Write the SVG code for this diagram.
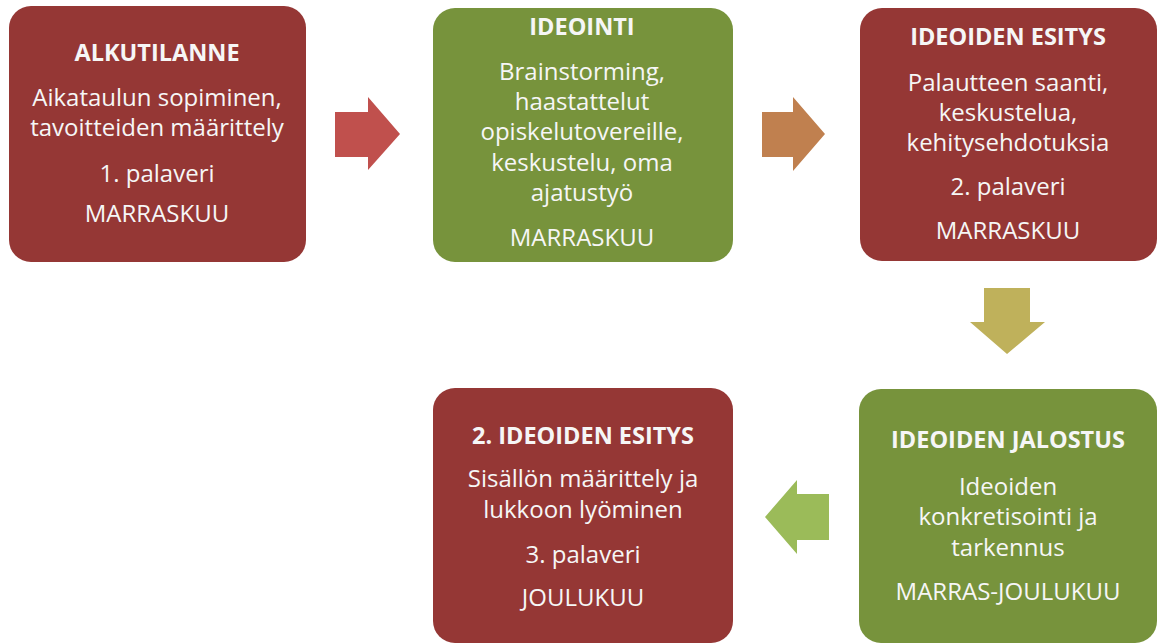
<svg xmlns="http://www.w3.org/2000/svg" width="1160" height="644" viewBox="0 0 1160 644">
<style>
.red{fill:#953735}
.green{fill:#77933C}
text{font-family:"Open Sans","Noto Sans",sans-serif;font-size:24px;fill:#F6F6F6;text-anchor:middle}
.t{font-weight:bold;font-size:23.5px}
</style>
<rect width="1160" height="644" fill="#FFFFFF"/>
<g id="connectors">
<polygon points="335,112 368,112 368,97 400,134 368,170 368,157 335,157" fill="#C0504D"/>
<polygon points="762,112 793,112 793,97 825,134 793,171 793,157 762,157" fill="#C0804F"/>
<polygon points="984,288 1030,288 1030,322 1045,322 1007,354 970,322 984,322" fill="#BFB15B"/>
<polygon points="829,494 797,494 797,480 765,517 797,554 797,540 829,540" fill="#9BBB59"/>
</g>
<g id="alkutilanne">
<rect class="red" x="9" y="6" width="297" height="256" rx="22"/>
<text class="t" x="157" y="61">ALKUTILANNE</text>
<text x="157" y="106">Aikataulun sopiminen,</text>
<text x="157" y="136">tavoitteiden määrittely</text>
<text x="157" y="182">1. palaveri</text>
<text x="157" y="222">MARRASKUU</text>
</g>
<g id="ideointi">
<rect class="green" x="433" y="8" width="300" height="254" rx="22"/>
<text class="t" x="582" y="35">IDEOINTI</text>
<text x="582" y="80">Brainstorming,</text>
<text x="582" y="110">haastattelut</text>
<text x="582" y="140">opiskelutovereille,</text>
<text x="582" y="171">keskustelu, oma</text>
<text x="582" y="201">ajatustyö</text>
<text x="582" y="246">MARRASKUU</text>
</g>
<g id="ideoiden-esitys">
<rect class="red" x="860" y="8" width="297" height="253" rx="22"/>
<text class="t" x="1008" y="45">IDEOIDEN ESITYS</text>
<text x="1008" y="91">Palautteen saanti,</text>
<text x="1008" y="121">keskustelua,</text>
<text x="1008" y="151">kehitysehdotuksia</text>
<text x="1008" y="195">2. palaveri</text>
<text x="1008" y="239">MARRASKUU</text>
</g>
<g id="ideoiden-jalostus">
<rect class="green" x="859" y="389" width="298" height="254" rx="22"/>
<text class="t" x="1008" y="448">IDEOIDEN JALOSTUS</text>
<text x="1008" y="495">Ideoiden</text>
<text x="1008" y="525">konkretisointi ja</text>
<text x="1008" y="556">tarkennus</text>
<text x="1008" y="600">MARRAS-JOULUKUU</text>
</g>
<g id="ideoiden-esitys-2">
<rect class="red" x="433" y="388" width="300" height="255" rx="22"/>
<text class="t" x="583" y="444">2. IDEOIDEN ESITYS</text>
<text x="583" y="487">Sisällön määrittely ja</text>
<text x="583" y="518">lukkoon lyöminen</text>
<text x="583" y="563">3. palaveri</text>
<text x="583" y="606">JOULUKUU</text>
</g>
</svg>
